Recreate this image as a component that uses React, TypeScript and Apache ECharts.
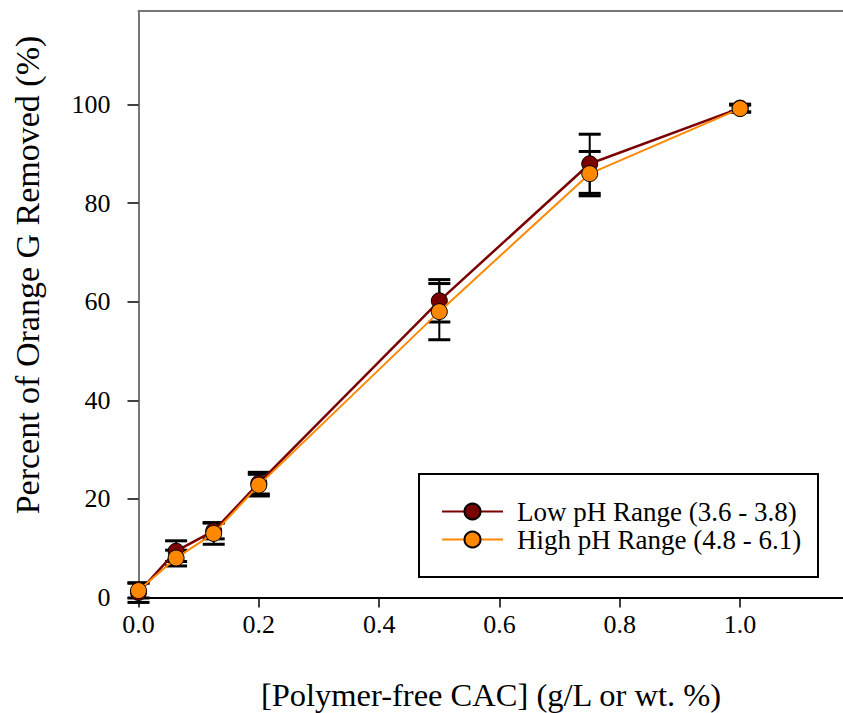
import React, { useEffect, useRef } from "react";
import * as echarts from "echarts";

const xValues = [0, 0.0625, 0.125, 0.2, 0.5, 0.75, 1.0];
const lowValues = [1.0, 9.4, 13.5, 23.2, 60.2, 88.0, 99.3];
const lowErrors = [2.0, 2.1, 1.6, 2.2, 4.3, 6.0, 0.8];
const highValues = [1.4, 8.0, 13.0, 22.8, 58.0, 86.0, 99.2];
const highErrors = [1.5, 1.6, 2.2, 2.2, 5.7, 4.5, 0.7];
const xTicks = [0, 0.2, 0.4, 0.6, 0.8, 1.0];
const yTicks = [0, 20, 40, 60, 80, 100];
const seriesNames = ["Low pH Range (3.6 - 3.8)", "High pH Range (4.8 - 6.1)"];
const xTitle = "[Polymer-free CAC] (g/L or wt. %)";
const yTitle = "Percent of Orange G Removed (%)";

const FONT = "Liberation Serif";
const LOW_COLOR = "#7a0000";
const HIGH_COLOR = "#ff8800";

function errorSeries(values: number[], errors: number[], z: number) {
  return {
    type: "custom",
    z,
    clip: false,
    silent: true,
    data: xValues.map((x, i) => [x, values[i], errors[i]]),
    renderItem: (params: any, api: any) => {
      const x = api.value(0);
      const y = api.value(1);
      const e = api.value(2);
      const top = api.coord([x, y + e]);
      const bot = api.coord([x, y - e]);
      const hw = 11;
      const st = { stroke: "#000", lineWidth: 2 };
      const cap = { stroke: "#000", lineWidth: 3 };
      return {
        type: "group",
        children: [
          { type: "line", shape: { x1: top[0], y1: top[1], x2: bot[0], y2: bot[1] }, style: st },
          { type: "line", shape: { x1: top[0] - hw, y1: top[1], x2: top[0] + hw, y2: top[1] }, style: cap },
          { type: "line", shape: { x1: bot[0] - hw, y1: bot[1], x2: bot[0] + hw, y2: bot[1] }, style: cap },
        ],
      };
    },
  };
}

export default function App() {
  const ref = useRef<HTMLDivElement>(null);
  useEffect(() => {
    if (!ref.current) return;
    const chart = echarts.init(ref.current, null, { renderer: "svg" });
    chart.setOption({
      animation: false,
      backgroundColor: "#ffffff",
      textStyle: { fontFamily: FONT, color: "#000" },
      grid: { left: 138.5, top: 11, right: 0, bottom: 115.5, containLabel: false },
      xAxis: [
        {
          type: "value",
          min: 0,
          max: 1.171,
          position: "bottom",
          axisLine: { onZero: false, lineStyle: { color: "#000", width: 2 } },
          axisTick: { show: true, length: 10, lineStyle: { color: "#000", width: 1.5 }, customValues: xTicks },
          axisLabel: {
            customValues: xTicks,
            formatter: (v: number) => v.toFixed(1),
            fontSize: 26,
            fontFamily: FONT,
            color: "#000",
            margin: 14,
          },
          splitLine: { show: false },
        },
        {
          type: "value",
          min: 0,
          max: 1.171,
          position: "top",
          axisLine: { show: true, onZero: false, lineStyle: { color: "#777", width: 2 } },
          axisTick: { show: false },
          axisLabel: { show: false },
          splitLine: { show: false },
        },
      ],
      yAxis: {
        type: "value",
        min: 0,
        max: 119,
        axisLine: { show: true, onZero: false, lineStyle: { color: "#777", width: 2 } },
        axisTick: { show: true, length: 11, lineStyle: { color: "#000", width: 1.5 }, customValues: yTicks },
        axisLabel: {
          customValues: yTicks,
          fontSize: 26,
          fontFamily: FONT,
          color: "#000",
          margin: 28,
        },
        splitLine: { show: false },
      },
      legend: {
        orient: "vertical",
        left: 441,
        top: 497.5,
        padding: 0,
        z: 10,
        itemWidth: 61,
        itemHeight: 20,
        itemGap: 0,
        selectedMode: false,
        data: seriesNames,
        textStyle: { fontSize: 27, fontFamily: FONT, color: "#000", lineHeight: 28, padding: [0, 0, 0, 9] },
      },
      graphic: [
        {
          type: "rect",
          z: 1,
          silent: true,
          shape: { x: 419, y: 474, width: 399, height: 103 },
          style: { fill: "none", stroke: "#000", lineWidth: 2 },
        },
        {
          type: "text",
          x: 491,
          y: 695,
          style: { text: xTitle, fontSize: 32.5, fontFamily: FONT, fill: "#000", textAlign: "center", textVerticalAlign: "middle" },
        },
        {
          type: "text",
          x: 27,
          y: 275,
          rotation: Math.PI / 2,
          style: { text: yTitle, fontSize: 34, fontFamily: FONT, fill: "#000", textAlign: "center", textVerticalAlign: "middle" },
        },
      ],
      series: [
        errorSeries(lowValues, lowErrors, 1),
        errorSeries(highValues, highErrors, 1),
        {
          name: seriesNames[0],
          type: "line",
          z: 3,
          clip: false,
          data: xValues.map((x, i) => [x, lowValues[i]]),
          symbol: "circle",
          symbolSize: 16,
          lineStyle: { color: LOW_COLOR, width: 2.5 },
          itemStyle: { color: LOW_COLOR, borderColor: "#000", borderWidth: 1 },
        },
        {
          name: seriesNames[1],
          type: "line",
          z: 4,
          clip: false,
          data: xValues.map((x, i) => [x, highValues[i]]),
          symbol: "circle",
          symbolSize: 16,
          lineStyle: { color: HIGH_COLOR, width: 2 },
          itemStyle: { color: HIGH_COLOR, borderColor: "#000", borderWidth: 1 },
        },
      ],
    });
    return () => chart.dispose();
  }, []);
  return <div ref={ref} style={{ position: "absolute", left: 0, top: 0, width: 843, height: 713 }} />;
}
